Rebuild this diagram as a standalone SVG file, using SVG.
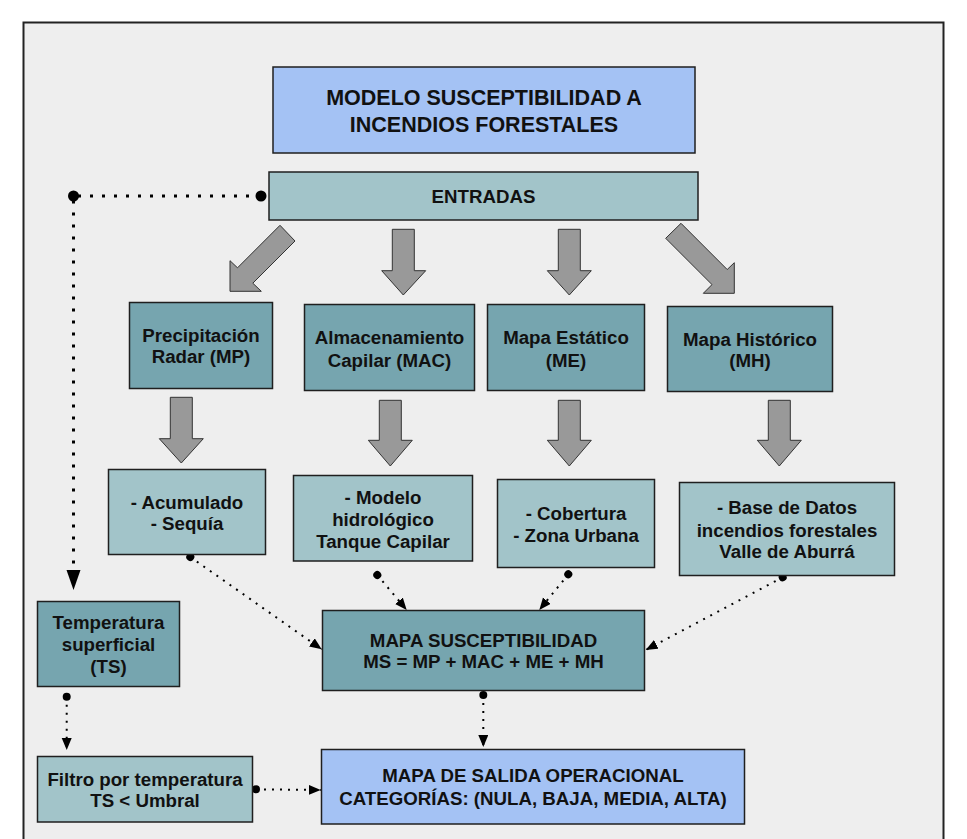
<svg xmlns="http://www.w3.org/2000/svg" width="967" height="839" viewBox="0 0 967 839">
<defs>
<style>
.box{stroke:#1f1f1f;stroke-width:1.5}
.blue{fill:#a4c2f4}
.lc{fill:#a2c4c9}
.dc{fill:#76a5af}
.t{font-family:"Liberation Sans",Arial,sans-serif;font-weight:bold;font-size:18.7px;fill:#111;text-anchor:middle}
.big{font-size:21.5px}
.ga{fill:#999999;stroke:#333;stroke-width:1;stroke-linejoin:miter}
.dot{fill:none;stroke:#000;stroke-width:2;stroke-dasharray:2 6}
.dot3{fill:none;stroke:#000;stroke-width:3;stroke-dasharray:3 9}
</style>
<marker id="end" markerUnits="userSpaceOnUse" markerWidth="14" markerHeight="12" refX="12" refY="5" orient="auto">
<path d="M0,0 L12,5 L0,10 z" fill="#000"/>
</marker>
<marker id="start" markerUnits="userSpaceOnUse" markerWidth="10" markerHeight="10" refX="5" refY="5" orient="auto">
<circle cx="5" cy="5" r="4" fill="#000"/>
</marker>
</defs>
<rect x="0" y="0" width="967" height="839" fill="#ffffff"/>
<rect x="23.5" y="22.5" width="920" height="840" fill="#eeeeee" stroke="#222" stroke-width="2"/>

<g id="gray-arrows">
<polygon class="ga" points="280,225.3 295,241 252.8,283.2 261.3,291.3 230,291.3 230,260.7 237.5,267.8"/>
<polygon class="ga" points="392.3,229.3 414.3,229.3 414.3,270.7 425.7,270.7 403.3,295 381.7,270.7 392.3,270.7"/>
<polygon class="ga" points="558.3,229.3 580.3,229.3 580.3,270.7 591.3,270.7 569.3,295 547.3,270.7 558.3,270.7"/>
<polygon class="ga" points="681,223.3 727.2,269.5 734.3,262.7 734.3,293.3 703.3,293.3 712,284.6 665.7,238.3"/>
<polygon class="ga" points="170.3,397.3 192.3,397.3 192.3,438.7 203.3,438.7 181.3,463 159.3,438.7 170.3,438.7"/>
<polygon class="ga" points="379.3,400.3 401.3,400.3 401.3,440.3 412.3,440.3 390.3,466 368.3,440.3 379.3,440.3"/>
<polygon class="ga" points="558.3,400.3 580.3,400.3 580.3,440.3 591.3,440.3 569.3,466 547.3,440.3 558.3,440.3"/>
<polygon class="ga" points="768.3,400.3 790.3,400.3 790.3,440.3 801.3,440.3 779.3,466 757.3,440.3 768.3,440.3"/>
</g>

<g id="connectors">
<polyline class="dot3" points="261,196 73.5,196 73.5,572"/>
<circle cx="261" cy="196" r="5.5" fill="#000"/>
<circle cx="73.5" cy="196" r="5.5" fill="#000"/>
<polygon points="66.5,570 80.5,570 73.5,590" fill="#000"/>
<line class="dot" x1="190.3" y1="557" x2="321.7" y2="649.3" marker-start="url(#start)" marker-end="url(#end)"/>
<line class="dot" x1="377.3" y1="575" x2="406.7" y2="610" marker-start="url(#start)" marker-end="url(#end)"/>
<line class="dot" x1="568.3" y1="574.3" x2="539.3" y2="610" marker-start="url(#start)" marker-end="url(#end)"/>
<line class="dot" x1="782.7" y1="577.3" x2="645.7" y2="650" marker-start="url(#start)" marker-end="url(#end)"/>
<line class="dot" x1="483.3" y1="695" x2="483.3" y2="747" marker-start="url(#start)" marker-end="url(#end)"/>
<line class="dot" x1="66.7" y1="696.7" x2="66.7" y2="750" marker-start="url(#start)" marker-end="url(#end)"/>
<line class="dot" x1="256" y1="789.3" x2="320.7" y2="790" marker-start="url(#start)" marker-end="url(#end)"/>
</g>

<g id="title">
<rect class="box blue" x="273" y="67" width="422" height="86"/>
<text class="t big" x="484" y="105">MODELO SUSCEPTIBILIDAD A</text>
<text class="t big" x="484" y="131.5">INCENDIOS FORESTALES</text>
</g>
<g id="entradas">
<rect class="box lc" x="269" y="172" width="429" height="48"/>
<text class="t" x="483.5" y="203">ENTRADAS</text>
</g>
<g id="mp">
<rect class="box dc" x="129.5" y="302.5" width="143" height="86"/>
<text class="t" x="201" y="341.5">Precipitación</text>
<text class="t" x="201" y="363">Radar (MP)</text>
</g>
<g id="mac">
<rect class="box dc" x="304.5" y="304.5" width="170" height="86"/>
<text class="t" x="389.5" y="344">Almacenamiento</text>
<text class="t" x="389.5" y="366.5">Capilar (MAC)</text>
</g>
<g id="me">
<rect class="box dc" x="487.5" y="304.5" width="157" height="86"/>
<text class="t" x="566" y="344">Mapa Estático</text>
<text class="t" x="566" y="366.5">(ME)</text>
</g>
<g id="mh">
<rect class="box dc" x="667.5" y="306.5" width="165" height="85"/>
<text class="t" x="750" y="345.5">Mapa Histórico</text>
<text class="t" x="750" y="367">(MH)</text>
</g>
<g id="acumulado">
<rect class="box lc" x="108.5" y="469.5" width="157" height="85"/>
<text class="t" x="187" y="509">- Acumulado</text>
<text class="t" x="187" y="530">- Sequía</text>
</g>
<g id="modelo">
<rect class="box lc" x="293.5" y="475.5" width="179" height="85.5"/>
<text class="t" x="383" y="504">- Modelo</text>
<text class="t" x="383" y="525.5">hidrológico</text>
<text class="t" x="383" y="547.5">Tanque Capilar</text>
</g>
<g id="cobertura">
<rect class="box lc" x="497.5" y="479.5" width="157" height="88"/>
<text class="t" x="576" y="520">- Cobertura</text>
<text class="t" x="576" y="542">- Zona Urbana</text>
</g>
<g id="basedatos">
<rect class="box lc" x="679.5" y="482.5" width="215" height="93"/>
<text class="t" x="787" y="514">- Base de Datos</text>
<text class="t" x="787" y="536.5">incendios forestales</text>
<text class="t" x="787" y="558">Valle de Aburrá</text>
</g>
<g id="ts">
<rect class="box dc" x="37.5" y="601.5" width="142" height="85"/>
<text class="t" x="108.5" y="629">Temperatura</text>
<text class="t" x="108.5" y="651">superficial</text>
<text class="t" x="108.5" y="673">(TS)</text>
</g>
<g id="ms">
<rect class="box dc" x="322.5" y="610.5" width="322" height="80"/>
<text class="t" x="483.5" y="646.5">MAPA SUSCEPTIBILIDAD</text>
<text class="t" x="483.5" y="668">MS = MP + MAC + ME + MH</text>
</g>
<g id="filtro">
<rect class="box lc" x="37.5" y="756.5" width="215" height="65.5"/>
<text class="t" x="145" y="785.5">Filtro por temperatura</text>
<text class="t" x="145" y="807">TS &lt; Umbral</text>
</g>
<g id="salida">
<rect class="box blue" x="321.5" y="749.5" width="423" height="74.5"/>
<text class="t" x="533" y="782">MAPA DE SALIDA OPERACIONAL</text>
<text class="t" x="533" y="805">CATEGORÍAS: (NULA, BAJA, MEDIA, ALTA)</text>
</g>
</svg>
